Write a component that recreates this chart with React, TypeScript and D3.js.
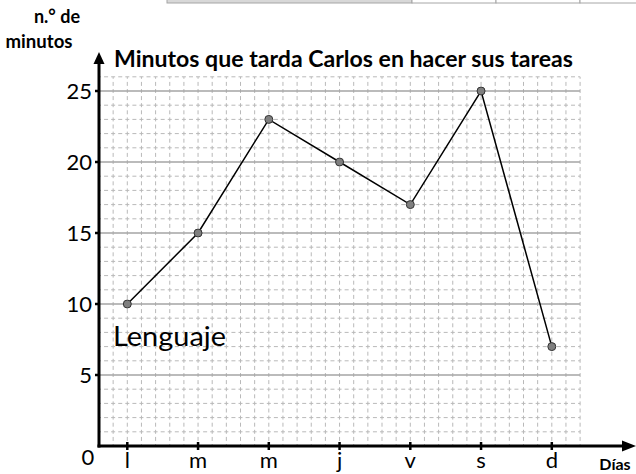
import React, { useEffect, useRef } from 'react';
import * as d3 from 'd3';

const W = 636, H = 474;
const X0 = 99;          // y axis position
const Y0 = 446;         // x axis position
const UNIT_X = 14.15;
const COLS = 34;        // grid columns
const ROWS = 26;        // grid rows (minutes)
const FONT = 'Lato, "Open Sans", sans-serif';

const days = ['l', 'm', 'm', 'j', 'v', 's', 'd'];
const minutes = [10, 15, 23, 20, 17, 25, 7];
const yTicks = [5, 10, 15, 20, 25];
const title = 'Minutos que tarda Carlos en hacer sus tareas';

export default function App() {
  const ref = useRef<SVGSVGElement | null>(null);

  useEffect(() => {
    const svg = d3.select(ref.current);
    svg.selectAll('*').remove();

    const gx = d3.scaleLinear().domain([0, COLS]).range([X0, X0 + COLS * UNIT_X]);
    const y = d3.scaleLinear().domain([0, ROWS]).range([Y0, Y0 - ROWS * 14.2]);
    const x = d3.scalePoint<number>()
      .domain(days.map((_, i) => i))
      .range([X0, X0 + COLS * UNIT_X])
      .padding(0.4);

    // top table fragment
    svg.append('rect').attr('x', 167).attr('y', -2).attr('width', 245).attr('height', 5)
      .attr('fill', '#d8d8d8').attr('stroke', '#a6a6a6');
    [412, 496, 580].forEach(cx => {
      svg.append('rect').attr('x', cx).attr('y', -2).attr('width', 84).attr('height', 5)
        .attr('fill', '#fff').attr('stroke', '#a6a6a6');
    });

    const grid = svg.append('g');
    const half = 14.2 / 2;

    // vertical dashed grid
    d3.range(1, COLS + 1).forEach(i => {
      grid.append('line')
        .attr('x1', gx(i)).attr('x2', gx(i))
        .attr('y1', y(ROWS)).attr('y2', Y0)
        .attr('stroke', '#b9b9b9').attr('stroke-width', 1)
        .attr('stroke-dasharray', `4,${half - 4}`).attr('stroke-dashoffset', 2);
    });

    // horizontal grid: solid every 5, dashed otherwise
    d3.range(1, ROWS + 1).forEach(v => {
      const major = v % 5 === 0;
      grid.append('line')
        .attr('x1', X0).attr('x2', gx(COLS))
        .attr('y1', y(v)).attr('y2', y(v))
        .attr('stroke', major ? '#a4a4a4' : '#b9b9b9')
        .attr('stroke-width', major ? 1.3 : 1)
        .attr('stroke-dasharray', major ? null : `4,${UNIT_X / 2 - 4}`)
        .attr('stroke-dashoffset', major ? null : 2);
    });

    // axes
    svg.append('line').attr('x1', X0).attr('x2', X0).attr('y1', Y0 + 1.5).attr('y2', 60)
      .attr('stroke', '#000').attr('stroke-width', 3);
    svg.append('path').attr('d', `M${X0},52 L${X0 - 5.5},64 L${X0 + 5.5},64 Z`).attr('fill', '#000');
    svg.append('line').attr('x1', X0 - 1.5).attr('x2', 626).attr('y1', Y0).attr('y2', Y0)
      .attr('stroke', '#000').attr('stroke-width', 3);
    svg.append('path').attr('d', `M636,${Y0} L622,${Y0 - 5.5} L622,${Y0 + 5.5} Z`).attr('fill', '#000');

    // y ticks
    yTicks.forEach(v => {
      svg.append('line').attr('x1', X0 - 4).attr('x2', X0).attr('y1', y(v)).attr('y2', y(v))
        .attr('stroke', '#000').attr('stroke-width', 2.5);
      svg.append('text').attr('x', 92).attr('y', y(v) + 8).attr('text-anchor', 'end')
        .attr('font-family', FONT).attr('font-size', 22).attr('fill', '#000').text(v);
    });
    svg.append('text').attr('x', 88).attr('y', 465).attr('text-anchor', 'middle')
      .attr('font-family', FONT).attr('font-size', 22).attr('fill', '#000').text('0');

    // x ticks
    days.forEach((d, i) => {
      const px = x(i) as number;
      svg.append('line').attr('x1', px).attr('x2', px).attr('y1', Y0 - 4).attr('y2', Y0 + 4)
        .attr('stroke', '#000').attr('stroke-width', 2.5);
      svg.append('text').attr('x', px).attr('y', 468).attr('text-anchor', 'middle')
        .attr('font-family', FONT).attr('font-size', 22).attr('fill', '#000').text(d);
    });

    // series
    const line = d3.line<number>()
      .x((_, i) => x(i) as number)
      .y(d => y(d));
    svg.append('path').attr('d', line(minutes)).attr('fill', 'none')
      .attr('stroke', '#000').attr('stroke-width', 1.5);
    svg.selectAll('circle.pt').data(minutes).enter().append('circle')
      .attr('cx', (_, i) => x(i) as number).attr('cy', d => y(d)).attr('r', 4)
      .attr('fill', '#7f7f7f').attr('stroke', '#333').attr('stroke-width', 1);

    // texts
    svg.append('text').attr('x', 114).attr('y', 67)
      .attr('font-family', FONT).attr('font-size', 23).attr('font-weight', 'bold')
      .attr('textLength', 459).attr('lengthAdjust', 'spacingAndGlyphs').text(title);
    svg.append('text').attr('x', 113).attr('y', 346)
      .attr('font-family', FONT).attr('font-size', 26)
      .attr('textLength', 113).attr('lengthAdjust', 'spacingAndGlyphs').text('Lenguaje');
    svg.append('text').attr('x', 57).attr('y', 23).attr('text-anchor', 'middle')
      .attr('font-family', FONT).attr('font-size', 18).attr('font-weight', 'bold').text('n.° de');
    svg.append('text').attr('x', 39).attr('y', 48).attr('text-anchor', 'middle')
      .attr('font-family', FONT).attr('font-size', 18).attr('font-weight', 'bold')
      .attr('textLength', 67).attr('lengthAdjust', 'spacingAndGlyphs').text('minutos');
    svg.append('text').attr('x', 615).attr('y', 470).attr('text-anchor', 'middle')
      .attr('font-family', FONT).attr('font-size', 16).attr('font-weight', 'bold').text('Días');
  }, []);

  return (
    <svg ref={ref} width={W} height={H}
      style={{ position: 'absolute', left: 0, top: 0, background: '#fff' }} />
  );
}
